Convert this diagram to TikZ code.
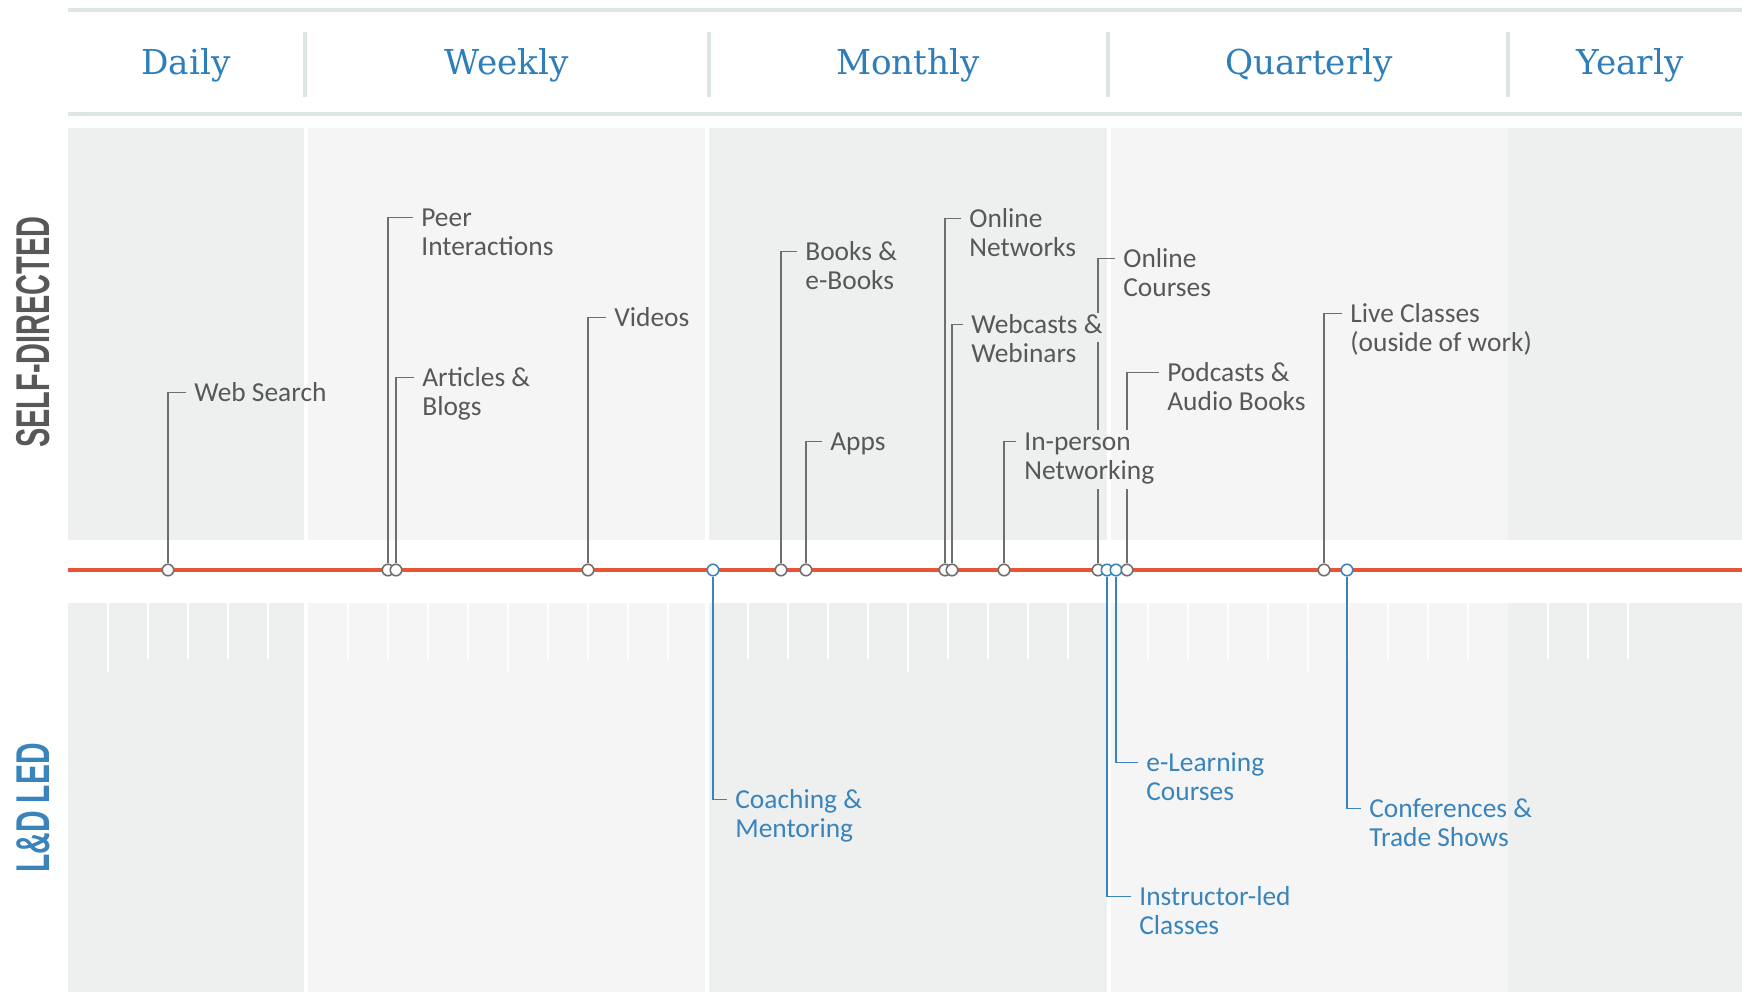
\documentclass[tikz,border=0pt]{standalone}
\usepackage{fontspec}
\usepackage{graphicx}
\usetikzlibrary{positioning,calc}

\newfontfamily\lblfont{Carlito}
\newfontfamily\sidefont{Liberation Sans}
\newfontfamily\headfont{DejaVu Serif}

\definecolor{headblue}{RGB}{46,126,186}
\definecolor{ldblue}{RGB}{58,132,188}
\definecolor{stemgray}{RGB}{110,110,110}
\definecolor{txtgray}{RGB}{88,88,88}
\definecolor{redline}{RGB}{233,84,52}
\definecolor{rulecol}{RGB}{222,229,229}
\definecolor{coldark}{RGB}{238,240,240}
\definecolor{collight}{RGB}{245,245,245}

\newcommand{\twolines}[1]{\begin{tabular}[t]{@{}l@{}}#1\end{tabular}}
\newcommand{\knock}[1]{{\setlength{\fboxsep}{0pt}\colorbox{coldark}{\strut#1}}}

\pgfdeclarelayer{back}
\pgfdeclarelayer{mid}
\pgfsetlayers{back,mid,main}

\begin{document}
\begin{tikzpicture}[x=0.02cm, y=0.02cm]
	\tikzstyle{headlbl}=[font=\headfont\fontsize{19.5}{23}\selectfont, text=headblue, anchor=base]
	\tikzstyle{sidelbl}=[font=\sidefont\bfseries\fontsize{27}{30}\selectfont, rotate=90, inner sep=0pt]
	\tikzstyle{dot}=[circle, draw=stemgray, fill=white, line width=0.9pt, minimum size=0.23cm, inner sep=0pt]
	\tikzstyle{lddot}=[dot, draw=ldblue]
	\tikzstyle{lbl}=[font=\lblfont\fontsize{15.6}{16.5}\selectfont, text=txtgray, inner sep=0pt, anchor=base west]
	\tikzstyle{ldlbl}=[lbl, text=ldblue]
	\tikzstyle{stem}=[draw=stemgray, line width=0.8pt]
	\tikzstyle{ldstem}=[stem, draw=ldblue]
	\tikzstyle{weektick}=[draw=white, line width=1pt]
	\useasboundingbox (0,0) rectangle (1742,992);

	\begin{pgfonlayer}{back}
		% columns, upper and lower zone
		\foreach \xa/\xb/\c in {68/306/coldark, 306/707/collight, 707/1109/coldark, 1109/1508/collight, 1508/1742/coldark} {
			\fill[\c] (\xa,452) rectangle (\xb,864);
			\fill[\c] (\xa,0) rectangle (\xb,389);
		}
		\foreach \xs in {306,707,1109}
			\draw[white, line width=0.08cm] (\xs,452) -- (\xs,864) (\xs,0) -- (\xs,389);
		% week ticks
		\foreach \k in {0,...,38} {
			\pgfmathtruncatemacro\r{mod(\k,10)}
			\ifnum\r=5 \else
				\ifnum\r=0
					\draw[weektick] (108+40*\k,389) -- (108+40*\k,320);
				\else
					\draw[weektick] (108+40*\k,389) -- (108+40*\k,333);
				\fi
			\fi
		}
		% header rules
		\draw[rulecol, line width=0.08cm] (68,982) -- (1742,982) (68,878) -- (1742,878);
		\foreach \xs in {305,709,1108,1508}
			\draw[rulecol, line width=0.08cm] (\xs,960) -- (\xs,895);
		% time line
		\draw[redline, line width=1.8pt] (68,422) -- (1742,422);
	\end{pgfonlayer}

	\node[headlbl] (daily)     at (186,917)  {Daily};
	\node[headlbl] (weekly)    at (507,917)  {Weekly};
	\node[headlbl] (monthly)   at (908,917)  {Monthly};
	\node[headlbl] (quarterly) at (1309,917) {Quarterly};
	\node[headlbl] (yearly)    at (1630,917) {Yearly};

	\node[sidelbl, text=txtgray] (self) at (33,660) {\scalebox{0.61}[1]{SELF-DIRECTED}};
	\node[sidelbl, text=ldblue]  (led)  at (33,184) {\scalebox{0.63}[1]{L\&D LED}};

	% markers on the time line
	\node[dot]   (ws) at (168,422)  {};
	\node[dot]   (pi) at (388,422)  {};
	\node[dot]   (ab) at (396,422)  {};
	\node[dot]   (vd) at (588,422)  {};
	\node[lddot] (cm) at (713,422)  {};
	\node[dot]   (bk) at (781,422)  {};
	\node[dot]   (ap) at (806,422)  {};
	\node[dot]   (on) at (945,422)  {};
	\node[dot]   (wc) at (952,422)  {};
	\node[dot]   (ip) at (1004,422) {};
	\node[dot]   (oc) at (1098,422) {};
	\node[lddot] (il) at (1107,422) {};
	\node[lddot] (el) at (1116,422) {};
	\node[dot]   (pc) at (1127,422) {};
	\node[dot]   (lc) at (1324,422) {};
	\node[lddot] (cf) at (1347,422) {};

	% self-directed
	\node[lbl] (ws-l) at (194,590.5)  {Web Search};
	\node[lbl] (pi-l) at (421,765.5)  {\twolines{Peer\\Interactions}};
	\node[lbl] (ab-l) at (422,605.5)  {\twolines{Articles \&\\Blogs}};
	\node[lbl] (vd-l) at (614,665.5)  {Videos};
	\node[lbl] (bk-l) at (805,731.5)  {\twolines{Books \&\\e-Books}};
	\node[lbl] (ap-l) at (830,541.5)  {Apps};
	\node[lbl] (on-l) at (969,764.5)  {\twolines{Online\\Networks}};
	\node[lbl] (wc-l) at (971,658.5)  {\twolines{\knock{Webcasts \&}\\Webinars}};
	\node[lbl] (ip-l) at (1024,541.5) {\twolines{In-person\\Networking}};
	\node[lbl] (oc-l) at (1123,724.5) {\twolines{Online\\Courses}};
	\node[lbl] (pc-l) at (1167,610.5) {\twolines{Podcasts \&\\Audio Books}};
	\node[lbl] (lc-l) at (1350,669.5) {\twolines{Live Classes\\(ouside of work)}};

	% L&D led
	\node[ldlbl] (cm-l) at (735,183.5)  {\twolines{Coaching \&\\Mentoring}};
	\node[ldlbl] (il-l) at (1139,86.5)  {\twolines{Instructor-led\\Classes}};
	\node[ldlbl] (el-l) at (1146,220.5) {\twolines{e-Learning\\Courses}};
	\node[ldlbl] (cf-l) at (1369,174.5) {\twolines{Conferences \&\\Trade Shows}};

	\begin{pgfonlayer}{mid}
		\foreach \n in {ws,pi,ab,vd,bk,ap,on,wc,ip,lc}
			\draw[stem] (\n) |- ([shift={(-8,8.8)}]\n-l.base west);
		% these two pass behind In-person Networking
		\foreach \n in {oc,pc} {
			\draw[stem] (\n) -- (\n |- ip-l.south);
			\draw[stem] (\n |- ip-l.north) |- ([shift={(-8,8.8)}]\n-l.base west);
		}
		\foreach \n in {cm,il,el,cf}
			\draw[ldstem] (\n) |- ([shift={(-8,8.8)}]\n-l.base west);
	\end{pgfonlayer}
\end{tikzpicture}
\end{document}
